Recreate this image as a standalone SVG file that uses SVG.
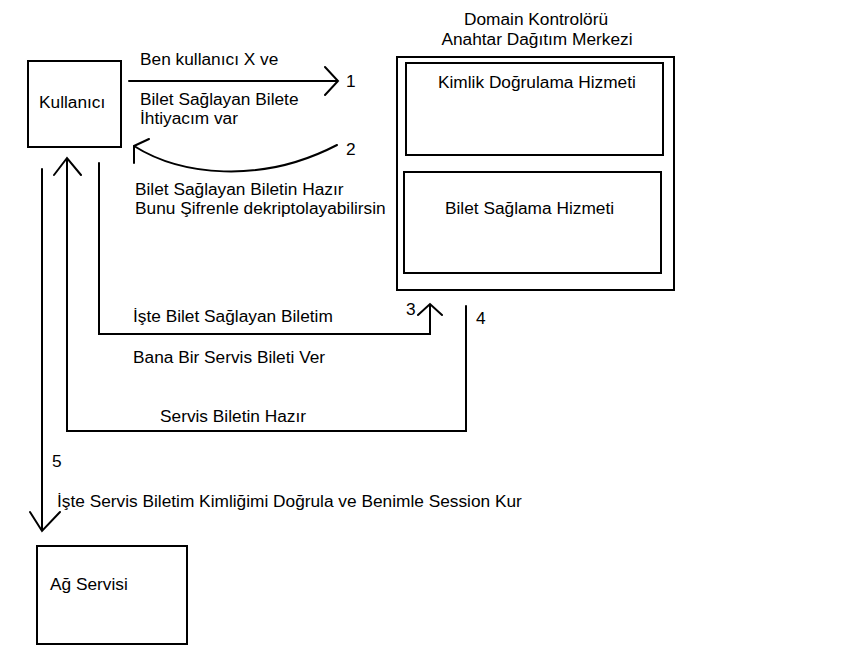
<svg xmlns="http://www.w3.org/2000/svg" width="868" height="651" viewBox="0 0 868 651">
<style>
text{font-family:"Liberation Sans",Arial,sans-serif;font-size:17.3px;fill:#000}
.box{fill:none;stroke:#000;stroke-width:2}
.ln{fill:none;stroke:#000;stroke-width:2;stroke-linecap:round;stroke-linejoin:miter}
</style>
<rect width="868" height="651" fill="#fff"/>
<g id="kullanici">
<rect class="box" x="28" y="61" width="93" height="86"/>
<text x="39" y="108">Kullanıcı</text>
</g>
<g id="domain">
<text x="536" y="25" text-anchor="middle">Domain Kontrolörü</text>
<text x="537" y="45" text-anchor="middle">Anahtar Dağıtım Merkezi</text>
<rect class="box" x="397" y="57" width="277" height="233"/>
</g>
<g id="kimlik">
<rect class="box" x="406" y="63" width="257" height="92"/>
<text x="438" y="88">Kimlik Doğrulama Hizmeti</text>
</g>
<g id="bilet">
<rect class="box" x="404" y="172" width="257" height="101"/>
<text x="445" y="214">Bilet Sağlama Hizmeti</text>
</g>
<g id="ag">
<rect class="box" x="37" y="546" width="150" height="98"/>
<text x="50" y="590">Ağ Servisi</text>
</g>
<g id="connectors">
<path class="ln" d="M129 81 H338 M325 67 L338 81 L325 95"/>
<path class="ln" d="M337 145 C260 185 180 175 134 146 M149 139 L134 146 L134 163"/>
<path class="ln" d="M99 163 V334 H430 V304 M418 315 L430 304 L442 315"/>
<path class="ln" d="M466 306 V431 H67 V158 M54 175 L67 158 L81 175"/>
<path class="ln" d="M42 169 V531 M30 512 L42 531 L60 512"/>
</g>
<g id="labels">
<text x="140" y="65">Ben kullanıcı X ve</text>
<text x="346" y="87">1</text>
<text x="140" y="105">Bilet Sağlayan Bilete</text>
<text x="140" y="124">İhtiyacım var</text>
<text x="346" y="155">2</text>
<text x="135" y="194.5">Bilet Sağlayan Biletin Hazır</text>
<text x="135" y="214">Bunu Şifrenle dekriptolayabilirsin</text>
<text x="406" y="315">3</text>
<text x="476" y="324">4</text>
<text x="133" y="322">İşte Bilet Sağlayan Biletim</text>
<text x="133" y="363">Bana Bir Servis Bileti Ver</text>
<text x="160" y="422">Servis Biletin Hazır</text>
<text x="52" y="467">5</text>
<text x="57" y="507">İşte Servis Biletim Kimliğimi Doğrula ve Benimle Session Kur</text>
</g>
</svg>
